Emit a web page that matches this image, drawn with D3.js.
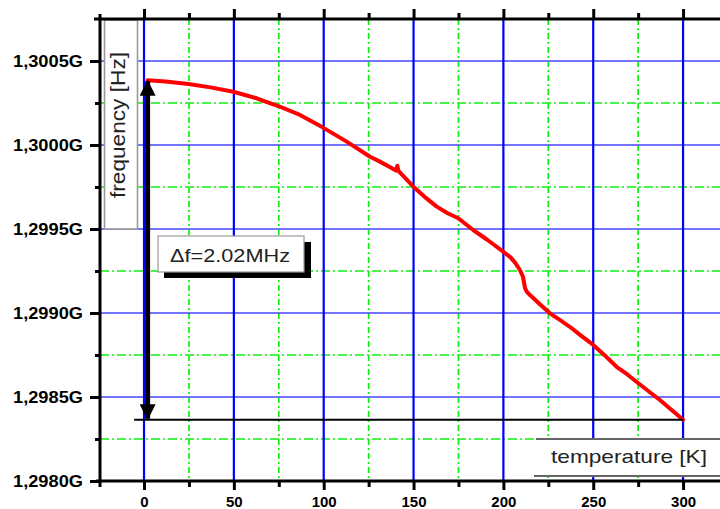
<!DOCTYPE html>
<html>
<head>
<meta charset="utf-8">
<script src="https://cdn.jsdelivr.net/npm/d3@7"></script>
<style>
  html, body { margin: 0; padding: 0; background: #fff; overflow: hidden; }
  svg { display: block; font-family: "Liberation Sans", Arial, sans-serif; }
</style>
</head>
<body>
<svg id="chart" width="720" height="509"></svg>
<script>
// Resonance frequency (MHz) versus temperature (K)
const temperature = [2, 12, 24.7, 37, 49.7, 62.7, 74.7, 86.8, 99.4, 112.8, 125.8, 131.3, 137,
  140.2, 141, 141.6, 149.9, 156, 162.9, 169, 174.9, 183.2, 191, 199.9, 204, 206.5, 209.2,
  210.9, 212, 213, 214.8, 220, 225.9, 231, 237, 243, 250, 256, 263, 269, 275.1, 281, 287.1,
  293, 300];
const frequencyMHz = [1300.385, 1300.378, 1300.363, 1300.343, 1300.317, 1300.278, 1300.232,
  1300.179, 1300.105, 1300.020, 1299.930, 1299.901, 1299.868,
  1299.848, 1299.876, 1299.846, 1299.752, 1299.693, 1299.633, 1299.594, 1299.564, 1299.494,
  1299.436, 1299.365, 1299.331, 1299.300, 1299.256, 1299.216, 1299.150, 1299.127, 1299.107,
  1299.055, 1298.998, 1298.962, 1298.918, 1298.867, 1298.810, 1298.752, 1298.680, 1298.634,
  1298.582, 1298.533, 1298.482, 1298.428, 1298.365];

const xMajorTicks = [0, 50, 100, 150, 200, 250, 300];
const xMinorTicks = [25, 75, 125, 175, 225, 275];
const yMajorTicks = [1298.0, 1298.5, 1299.0, 1299.5, 1300.0, 1300.5];
const yMinorTicks = [1298.25, 1298.75, 1299.25, 1299.75, 1300.25];
const yTickLabels = ["1,2980G", "1,2985G", "1,2990G", "1,2995G", "1,3000G", "1,3005G"];

const deltaF = 2.02;               // MHz, span marked by the double arrow
const fStart = frequencyMHz[0];
const fEnd = fStart - deltaF;
const arrowT = 2;
const deltaLabel = "\u0394f=2.02MHz";
const xTitle = "temperature [K]";
const yTitle = "frequency [Hz]";

const svg = d3.select("#chart");
const plotLeft = 100, plotTop = 19, plotBottom = 481;

const x = d3.scaleLinear().domain([-24.5, 322]).range([plotLeft, 722.6]);
const y = d3.scaleLinear().domain([1298.0, 1300.75]).range([plotBottom, plotTop]);

// grid: minor (green dash-dot) then major (blue)
const grid = svg.append("g");
grid.selectAll("line.vminor").data(xMinorTicks).join("line")
  .attr("x1", d => x(d)).attr("x2", d => x(d)).attr("y1", plotTop).attr("y2", plotBottom)
  .attr("stroke", "#10ee10").attr("stroke-width", 1.7).attr("stroke-dasharray", "6,3,2,3");
grid.selectAll("line.hminor").data(yMinorTicks).join("line")
  .attr("x1", plotLeft).attr("x2", 720).attr("y1", d => y(d)).attr("y2", d => y(d))
  .attr("stroke", "#10ee10").attr("stroke-width", 1.7).attr("stroke-dasharray", "9,3,2,3");
grid.selectAll("line.hmajor").data(yMajorTicks.slice(1)).join("line")
  .attr("x1", plotLeft).attr("x2", 720).attr("y1", d => y(d)).attr("y2", d => y(d))
  .attr("stroke", "#4646ff").attr("stroke-width", 1.4);
grid.selectAll("line.vmajor").data(xMajorTicks).join("line")
  .attr("x1", d => x(d)).attr("x2", d => x(d)).attr("y1", plotTop).attr("y2", plotBottom)
  .attr("stroke", "#0000ff").attr("stroke-width", 2.2);

// measured curve
const line = d3.line().x((d, i) => x(temperature[i])).y(d => y(d)).curve(d3.curveLinear);
svg.append("path").datum(frequencyMHz)
  .attr("d", line).attr("fill", "none").attr("stroke", "#ff0000")
  .attr("stroke-width", 4).attr("stroke-linejoin", "round").attr("stroke-linecap", "round");

// baseline at the final frequency
svg.append("line")
  .attr("x1", x(-5.5)).attr("x2", x(temperature[temperature.length - 1]))
  .attr("y1", y(fEnd)).attr("y2", y(fEnd))
  .attr("stroke", "#000").attr("stroke-width", 2);

// double arrow marking the frequency span
const defs = svg.append("defs");
defs.append("marker").attr("id", "head").attr("viewBox", "0 0 10 10")
  .attr("refX", 9).attr("refY", 5).attr("markerWidth", 3.3).attr("markerHeight", 3.2)
  .attr("markerUnits", "strokeWidth").attr("orient", "auto-start-reverse")
  .append("path").attr("d", "M0,0 L10,5 L0,10 Z").attr("fill", "#000");
svg.append("line")
  .attr("x1", x(arrowT)).attr("x2", x(arrowT))
  .attr("y1", y(fStart) + 1).attr("y2", y(fEnd) - 1)
  .attr("stroke", "#000").attr("stroke-width", 5)
  .attr("marker-start", "url(#head)").attr("marker-end", "url(#head)");

// y-axis title box
svg.append("rect").attr("x", 104.5).attr("y", 20).attr("width", 33).attr("height", 209)
  .attr("fill", "#fff").attr("stroke", "#999").attr("stroke-width", 1.6);
svg.append("text").attr("transform", "translate(125,125) rotate(-90)")
  .attr("text-anchor", "middle").attr("font-size", 20).attr("fill", "#222")
  .attr("textLength", 146).attr("lengthAdjust", "spacingAndGlyphs").text(yTitle);

// delta-f label with drop shadow
svg.append("rect").attr("x", 164).attr("y", 242).attr("width", 147).attr("height", 36).attr("fill", "#000");
svg.append("rect").attr("x", 158).attr("y", 236).attr("width", 146).attr("height", 36)
  .attr("fill", "#fff").attr("stroke", "#999").attr("stroke-width", 1.2);
svg.append("text").attr("x", 170).attr("y", 261.5).attr("font-size", 19).attr("fill", "#222")
  .attr("textLength", 120).attr("lengthAdjust", "spacingAndGlyphs").text(deltaLabel);

// x-axis title box
svg.append("rect").attr("x", 536).attr("y", 439).attr("width", 200).attr("height", 37).attr("fill", "#fff");
svg.append("line").attr("x1", 536).attr("x2", 720).attr("y1", 439).attr("y2", 439)
  .attr("stroke", "#666").attr("stroke-width", 1.8);
svg.append("line").attr("x1", 534).attr("x2", 720).attr("y1", 476).attr("y2", 476)
  .attr("stroke", "#666").attr("stroke-width", 1.8);
svg.append("text").attr("x", 551).attr("y", 462.5).attr("font-size", 19).attr("fill", "#222")
  .attr("textLength", 156).attr("lengthAdjust", "spacingAndGlyphs").text(xTitle);

// axes
function styleAxis(g) {
  g.select(".domain").remove();
  g.selectAll(".tick line").attr("stroke", "#000").attr("stroke-width", 3);
}
svg.append("g").attr("transform", `translate(${plotLeft},0)`)
  .call(d3.axisLeft(y).tickValues(yMajorTicks).tickSize(10).tickPadding(7)
    .tickFormat((d, i) => yTickLabels[i]))
  .call(styleAxis)
  .call(g => g.selectAll("text").attr("font-size", 16).attr("font-weight", "bold")
    .attr("font-family", "'Liberation Sans', Arial, sans-serif").attr("fill", "#000")
    .attr("textLength", 70).attr("lengthAdjust", "spacingAndGlyphs"));
svg.append("g").attr("transform", `translate(${plotLeft},0)`)
  .call(d3.axisLeft(y).tickValues(yMinorTicks).tickSize(5).tickFormat(""))
  .call(styleAxis);

svg.append("g").attr("transform", `translate(0,${plotTop})`)
  .call(d3.axisTop(x).tickValues(xMajorTicks).tickSize(10).tickFormat(""))
  .call(styleAxis);
svg.append("g").attr("transform", `translate(0,${plotTop})`)
  .call(d3.axisTop(x).tickValues(xMinorTicks).tickSize(6).tickFormat(""))
  .call(styleAxis);

svg.append("g").attr("transform", `translate(0,${plotBottom})`)
  .call(d3.axisBottom(x).tickValues(xMajorTicks).tickSize(9).tickPadding(6).tickFormat(d3.format("d")))
  .call(styleAxis)
  .call(g => g.selectAll("text").attr("font-size", 15).attr("font-weight", "bold")
    .attr("font-family", "'Liberation Sans', Arial, sans-serif").attr("fill", "#000"));
svg.append("g").attr("transform", `translate(0,${plotBottom})`)
  .call(d3.axisBottom(x).tickValues(xMinorTicks).tickSize(6).tickFormat(""))
  .call(styleAxis);

// axis lines
svg.append("line").attr("x1", plotLeft).attr("x2", plotLeft).attr("y1", 14).attr("y2", 487)
  .attr("stroke", "#000").attr("stroke-width", 3);
svg.append("line").attr("x1", 94).attr("x2", 720).attr("y1", plotTop).attr("y2", plotTop)
  .attr("stroke", "#000").attr("stroke-width", 3);
svg.append("line").attr("x1", 96).attr("x2", 720).attr("y1", plotBottom).attr("y2", plotBottom)
  .attr("stroke", "#000").attr("stroke-width", 3);
</script>
</body>
</html>
